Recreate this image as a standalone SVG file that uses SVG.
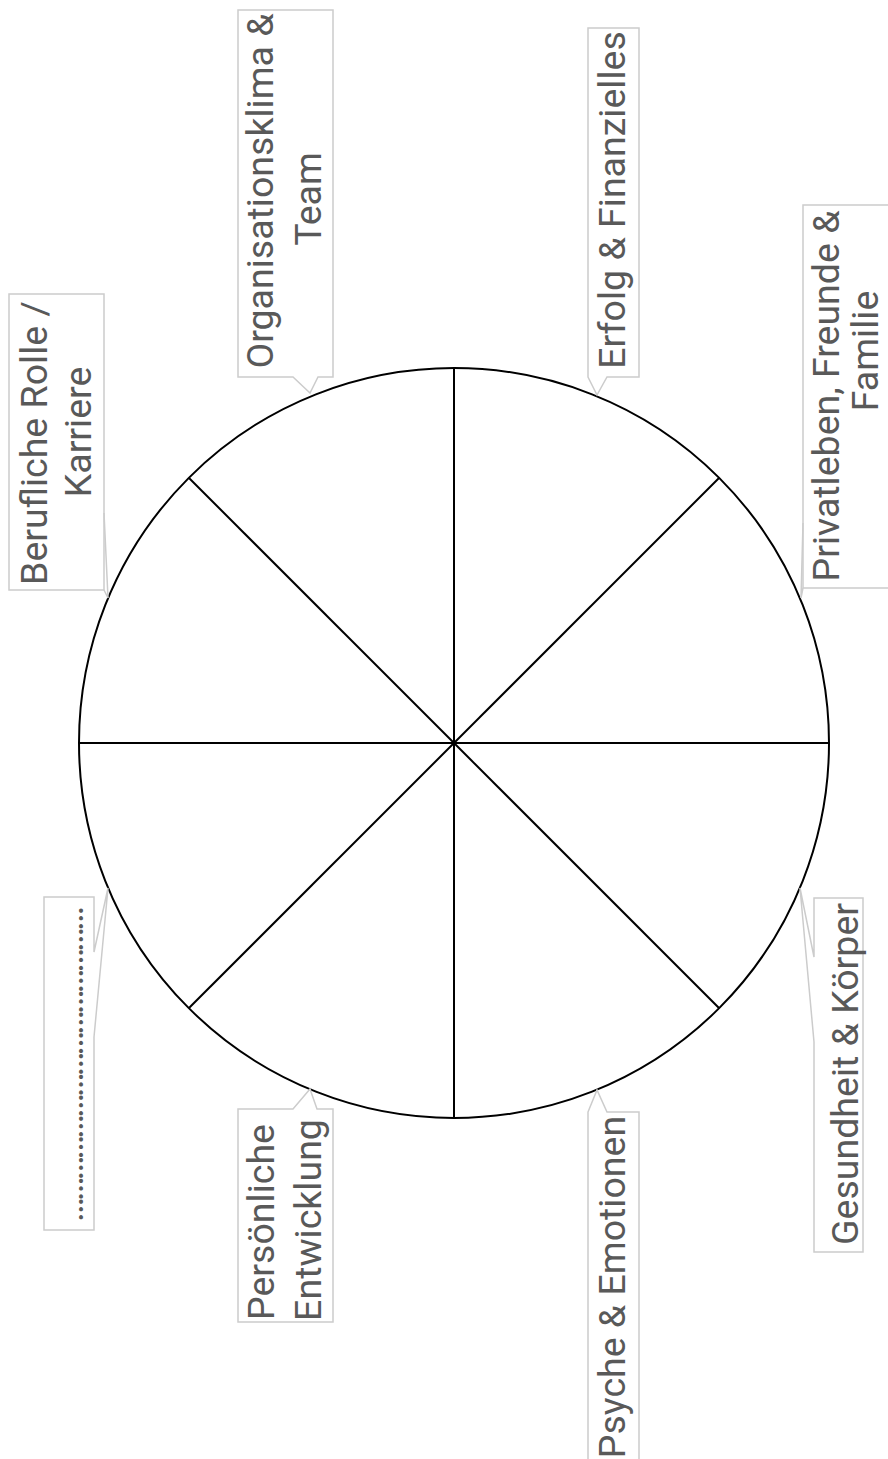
<svg xmlns="http://www.w3.org/2000/svg" width="888" height="1459" viewBox="0 0 888 1459">
<style>
.box{fill:#fff;stroke:#cccccc;stroke-width:1.5}
.ptr{fill:none;stroke:#cccccc;stroke-width:1.5}
.lbl{font-family:Roboto,"Liberation Sans",sans-serif;font-size:37.5px;fill:#595959;text-anchor:middle}
.wheel{fill:none;stroke:#000;stroke-width:2}
</style>
<rect width="888" height="1459" fill="#fff"/>
<g id="wheel">
<circle class="wheel" cx="454" cy="743" r="375"/>
</g>
<g id="connectors">
<line class="wheel" x1="454" y1="368" x2="454" y2="1118"/>
<line class="wheel" x1="79" y1="743" x2="829" y2="743"/>
<line class="wheel" x1="189" y1="478" x2="719" y2="1008"/>
<line class="wheel" x1="719" y1="478" x2="189" y2="1008"/>
</g>
<g id="berufliche">
<path class="box" d="M9,294 H104 V590 H9 Z"/>
<path class="ptr" d="M104,513 L108,598 L104,590"/>
<text class="lbl" transform="translate(47,443) rotate(-90)">Berufliche Rolle /</text>
<text class="lbl" transform="translate(91,432) rotate(-90)">Karriere</text>
</g>
<g id="organisationsklima">
<path class="box" d="M238,10 H333 V377 H318 L310,393 L293,377 H238 Z"/>
<text class="lbl" transform="translate(273,191) rotate(-90)">Organisationsklima &amp;</text>
<text class="lbl" transform="translate(321,199) rotate(-90)">Team</text>
</g>
<g id="erfolg">
<path class="box" d="M588,28 H639 V377 H607 L597,395 L588,377 Z"/>
<text class="lbl" transform="translate(625,200) rotate(-90)">Erfolg &amp; Finanzielles</text>
</g>
<g id="privatleben">
<path class="box" d="M803,205 H895 V588 H803 Z"/>
<path class="ptr" d="M803,523 L801,598 L803,588"/>
<text class="lbl" transform="translate(839,396) rotate(-90)">Privatleben, Freunde &amp;</text>
<text class="lbl" transform="translate(878,351) rotate(-90)">Familie</text>
</g>
<g id="gesundheit">
<path class="box" d="M814,898 H863 V1252 H814 V1042 L800,888 L814,957 Z"/>
<text class="lbl" transform="translate(858,1074) rotate(-90)">Gesundheit &amp; Körper</text>
</g>
<g id="psyche">
<path class="box" d="M588,1112 L597,1090 L607,1112 H639 V1462 H588 Z"/>
<text class="lbl" transform="translate(625,1287) rotate(-90)">Psyche &amp; Emotionen</text>
</g>
<g id="persoenliche">
<path class="box" d="M238,1109 H293 L310,1089 L317,1109 H333 V1322 H238 Z"/>
<text class="lbl" transform="translate(274,1222) rotate(-90)">Persönliche</text>
<text class="lbl" transform="translate(321,1220) rotate(-90)">Entwicklung</text>
</g>
<g id="dotted">
<path class="box" d="M44,897 H94 V952 L108,888 L94,1037 V1230 H44 Z"/>
<text class="lbl" transform="translate(83,1064) rotate(-90)" textLength="316" lengthAdjust="spacing">………………………………………</text>
</g>
</svg>
